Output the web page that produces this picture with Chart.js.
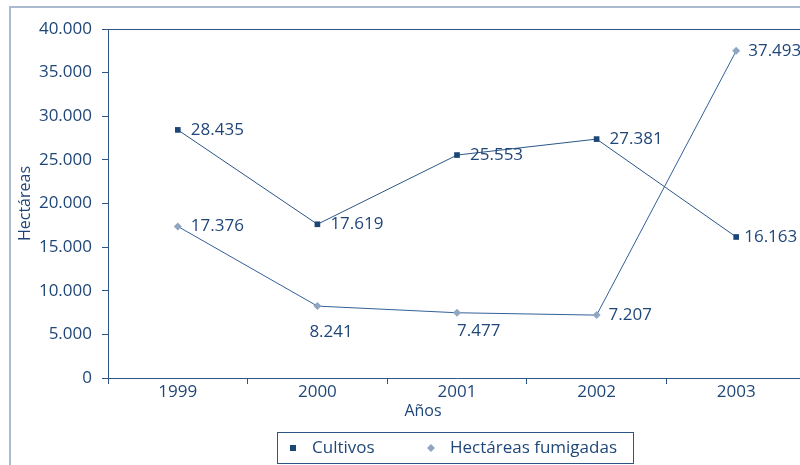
<!DOCTYPE html>
<html lang="es">
<head>
<meta charset="UTF-8">
<title>Cultivos y hectáreas fumigadas</title>
<script src="https://cdn.jsdelivr.net/npm/chart.js"></script>
<style>
  body { margin: 0; overflow: hidden; background: #fff; }
  #frame { position: absolute; left: 9px; top: 6px; width: 900px; height: 600px; border: 2px solid #a9bad0; }
  #wrap { position: absolute; left: 0; top: 0; width: 812px; height: 465px; }
</style>
</head>
<body>
<div id="frame"></div>
<div id="wrap"><canvas id="chart"></canvas></div>
<script>
const years = ['1999', '2000', '2001', '2002', '2003'];
const cultivos = [28435, 17619, 25553, 27381, 16163];
const fumigadas = [17376, 8241, 7477, 7207, 37493];
const yTicks = [0, 5000, 10000, 15000, 20000, 25000, 30000, 35000, 40000];

const textColor = '#1f4678';
const fontFamily = '"Open Sans", "Noto Sans", sans-serif';

function fmt(v) {
  return String(v).replace(/\B(?=(\d{3})+(?!\d))/g, '.');
}

// label placement per dataset / point: [dx, dy, align]
const labelPlace = [
  [[13, 0, 'left'], [13, 0, 'left'], [13, 0, 'left'], [13, 0, 'left'], [8, 0, 'left']],
  [[13, 0, 'left'], [-8, 26, 'left'], [0, 18, 'left'], [12, 0, 'left'], [12, 0, 'left']]
];

const extras = {
  id: 'extras',
  afterDatasetsDraw(chart) {
    const ctx = chart.ctx;
    const a = chart.chartArea;
    ctx.save();
    // plot frame (top edge)
    ctx.strokeStyle = '#2d5585';
    ctx.lineWidth = 1;
    ctx.beginPath();
    ctx.moveTo(a.left, a.top + 0.5);
    ctx.lineTo(a.right, a.top + 0.5);
    ctx.stroke();

    // data labels
    ctx.font = '17px ' + fontFamily;
    ctx.fillStyle = textColor;
    ctx.textBaseline = 'middle';
    chart.data.datasets.forEach((ds, di) => {
      chart.getDatasetMeta(di).data.forEach((pt, i) => {
        const p = labelPlace[di][i];
        ctx.textAlign = p[2];
        ctx.fillText(fmt(ds.data[i]), pt.x + p[0], pt.y + p[1]);
      });
    });

    // x axis title
    ctx.font = '16px ' + fontFamily;
    ctx.textAlign = 'center';
    ctx.fillText('Años', 423, 411);

    // legend
    const lx = 277, ly = 432, lw = 356, lh = 31;
    ctx.strokeStyle = '#2d5585';
    ctx.strokeRect(lx + 0.5, ly + 0.5, lw, lh);
    ctx.textAlign = 'left';
    ctx.font = '17px ' + fontFamily;
    const items = [
      { x: 293, label: chart.data.datasets[0].label, color: chart.data.datasets[0].pointBackgroundColor, diamond: false },
      { x: 431, label: chart.data.datasets[1].label, color: chart.data.datasets[1].pointBackgroundColor, diamond: true }
    ];
    const cy = ly + lh / 2 + 0.5;
    items.forEach(it => {
      ctx.fillStyle = it.color;
      if (it.diamond) {
        ctx.beginPath();
        ctx.moveTo(it.x, cy - 4);
        ctx.lineTo(it.x + 4, cy);
        ctx.lineTo(it.x, cy + 4);
        ctx.lineTo(it.x - 4, cy);
        ctx.closePath();
        ctx.fill();
      } else {
        ctx.fillRect(it.x - 3, cy - 3, 6, 6);
      }
      ctx.fillStyle = textColor;
      ctx.fillText(it.label, it.x + 19, cy);
    });
    ctx.restore();
  }
};

new Chart(document.getElementById('chart'), {
  type: 'line',
  data: {
    labels: years,
    datasets: [
      {
        label: 'Cultivos',
        data: cultivos,
        borderColor: '#2a5687',
        borderWidth: 1,
        pointStyle: 'rect',
        pointRadius: 4,
        pointBackgroundColor: '#1b4677',
        pointBorderColor: '#1b4677',
        pointBorderWidth: 0,
        tension: 0
      },
      {
        label: 'Hectáreas fumigadas',
        data: fumigadas,
        borderColor: '#33609a',
        borderWidth: 1,
        pointStyle: 'rectRot',
        pointRadius: 4,
        pointBackgroundColor: '#8fa6c3',
        pointBorderColor: '#8fa6c3',
        pointBorderWidth: 0,
        tension: 0
      }
    ]
  },
  options: {
    responsive: true,
    maintainAspectRatio: false,
    animation: false,
    layout: { padding: { top: 29, right: 6, left: 0, bottom: 0 } },
    plugins: {
      legend: { display: false },
      tooltip: { enabled: false }
    },
    scales: {
      x: {
        offset: true,
        afterFit(scale) { scale.height = 87; },
        grid: {
          offset: true,
          drawOnChartArea: false,
          color: '#2d5585',
          tickLength: 6
        },
        border: { color: '#2d5585', width: 1 },
        ticks: {
          color: textColor,
          padding: -2,
          font: { family: fontFamily, size: 17 }
        }
      },
      y: {
        min: 0,
        max: 40000,
        afterFit(scale) { scale.width = 108; },
        afterBuildTicks(scale) { scale.ticks = yTicks.map(v => ({ value: v })); },
        grid: {
          drawOnChartArea: false,
          color: '#2d5585',
          tickLength: 6
        },
        border: { color: '#2d5585', width: 1 },
        title: {
          display: true,
          text: 'Hectáreas',
          color: textColor,
          font: { family: fontFamily, size: 16 },
          padding: { top: 16, bottom: 0 }
        },
        ticks: {
          color: textColor,
          padding: 10,
          font: { family: fontFamily, size: 17 },
          callback: v => fmt(v)
        }
      }
    }
  },
  plugins: [extras]
});
</script>
</body>
</html>
